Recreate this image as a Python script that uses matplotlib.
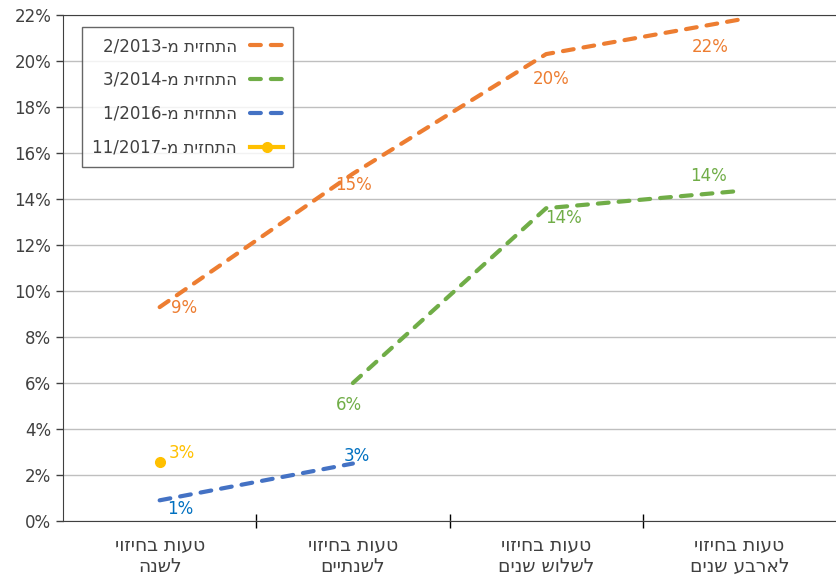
import numpy as np
from matplotlib import pyplot as plt

# matplotlib has no bidi, so hebrew lines are given reversed (visual order)
def rtl(s):
    return "\n".join(line[::-1] for line in s.split("\n"))

categories = ["טעות בחיזוי\nלשנה", "טעות בחיזוי\nלשנתיים",
              "טעות בחיזוי\nלשלוש שנים", "טעות בחיזוי\nלארבע שנים"]

fc_2013 = [9.3, 15.1, 20.3, 21.8]
fc_2014 = [None, 6.0, 13.6, 14.35]
fc_2016 = [0.9, 2.5, None, None]
fc_2017 = [2.55, None, None, None]

labels_2013 = ["9%", "15%", "20%", "22%"]
labels_2014 = [None, "6%", "14%", "14%"]
labels_2016 = ["1%", "3%", None, None]
labels_2017 = ["3%", None, None, None]

yticks = list(range(0, 23, 2))

plt.rcParams['font.family'] = ['DejaVu Sans']

fig = plt.figure(figsize=(8.36, 5.77), dpi=100)
ax = fig.add_axes([0.0754, 0.097, 0.9246, 0.877])

x = np.arange(len(categories))

def as_arr(v):
    return np.array([np.nan if a is None else a for a in v], dtype=float)

dash = dict(lw=3, linestyle=(0, (2.6, 2.4)), dash_capstyle='round')
ax.plot(x, as_arr(fc_2013), color='#ED7D31', label="2/2013-" + "התחזית מ"[::-1], **dash)
ax.plot(x, as_arr(fc_2014), color='#70AD47', label="3/2014-" + "התחזית מ"[::-1], **dash)
ax.plot(x, as_arr(fc_2016), color='#4472C4', label="1/2016-" + "התחזית מ"[::-1], **dash)
ax.plot(x, as_arr(fc_2017), color='#FFC000', lw=3, marker='o', markersize=7,
        label="11/2017-" + "התחזית מ"[::-1])

def put_labels(vals, labs, offsets, color):
    for i, (v, t, off) in enumerate(zip(vals, labs, offsets)):
        if v is None:
            continue
        ax.annotate(t, (x[i], v), xytext=off, textcoords='offset pixels',
                    ha='center', va='center', color=color, fontsize=12)

put_labels(fc_2013, labels_2013, [(24, -1), (1, -11), (5, -25), (-29, -27)], '#ED7D31')
put_labels(fc_2014, labels_2014, [None, (-4, -22), (17, -10), (-31, 15)], '#70AD47')
put_labels(fc_2016, labels_2016, [(21, -9), (4, 8), None, None], '#0070C0')
put_labels(fc_2017, labels_2017, [(22, 9), None, None, None], '#FFC000')

ax.set_xlim(-0.5, 3.5)
ax.set_ylim(0, 22)
ax.set_yticks(yticks)
ax.set_yticklabels([f"{t}%" for t in yticks], fontsize=12, color='#404040')
ax.yaxis.grid(True, color='#BFBFBF', lw=1)
ax.set_axisbelow(True)

ax.set_xticks(x)
ax.set_xticklabels([rtl(c) for c in categories], fontsize=13.5, color='#404040',
                   linespacing=1.1)
ax.tick_params(axis='x', which='major', length=0, pad=11)
ax.set_xticks([0.5, 1.5, 2.5], minor=True)
ax.tick_params(axis='x', which='minor', length=10, direction='inout', width=1)
ax.tick_params(axis='y', length=5, width=1, color='#404040')

ax.spines['right'].set_visible(False)
ax.spines['top'].set_color('#404040')
ax.spines['left'].set_color('#404040')
ax.spines['bottom'].set_color('#404040')

leg = ax.legend(loc='upper left', bbox_to_anchor=(0.0246, 0.976), borderaxespad=0,
                markerfirst=False, fontsize=12, handlelength=2.0, frameon=True,
                fancybox=False, labelspacing=0.95, borderpad=0.6, labelcolor='#404040')
leg.get_frame().set_edgecolor('#404040')
leg.get_frame().set_linewidth(1)

plt.savefig('out.png', dpi=100)
